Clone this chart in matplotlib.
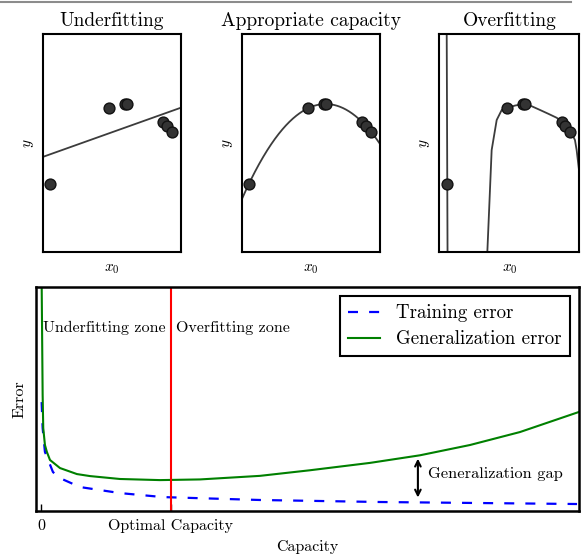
import numpy as np
import matplotlib
matplotlib.use("Agg")
import matplotlib.pyplot as plt
from matplotlib.lines import Line2D

plt.rcParams["font.family"] = "cmr10"
plt.rcParams["mathtext.fontset"] = "cm"
plt.rcParams["axes.formatter.use_mathtext"] = True

# ---------------- data ----------------
x_points = [0.053, 0.480, 0.596, 0.613, 0.874, 0.899, 0.937]
y_points = [0.315, 0.661, 0.680, 0.680, 0.596, 0.581, 0.553]
panel_titles = ["Underfitting", "Appropriate capacity", "Overfitting"]
fit_degrees = [1, 2]

# high-capacity (overfitting) curve
overfit_x = [0.050, 0.057, 0.064, 0.300, 0.343, 0.374, 0.386, 0.410, 0.446,
             0.481, 0.540, 0.598, 0.660, 0.719, 0.780, 0.839, 0.900, 0.934,
             0.969, 0.981, 0.998, 1.010]
overfit_y = [1.500, 0.315, -0.900, -1.000, 0.000, 0.469, 0.515, 0.607, 0.653,
             0.661, 0.673, 0.680, 0.670, 0.653, 0.635, 0.617, 0.585, 0.561,
             0.515, 0.469, 0.377, 0.250]

capacity_gen = [0.0015, 0.0093, 0.0139, 0.027, 0.042, 0.066, 0.143, 0.274, 0.375,
                0.606, 0.915, 1.224, 1.687, 2.073, 2.537, 2.923, 3.309, 3.695, 4.151]
gen_error = [1.03, 0.517, 0.369, 0.293, 0.262, 0.226, 0.190, 0.163, 0.154,
             0.141, 0.136, 0.139, 0.155, 0.180, 0.213, 0.247, 0.293, 0.351, 0.441]
capacity_train = [0.0015, 0.0093, 0.027, 0.089, 0.143, 0.297, 0.606, 0.938,
                  1.687, 2.614, 4.136]
train_error = [0.485, 0.369, 0.262, 0.172, 0.145, 0.105, 0.078, 0.060,
               0.047, 0.038, 0.029]
optimal_capacity = 1.0
xtick_labels = ["0", "Optimal Capacity"]
legend_labels = ["Training error", "Generalization error"]

W, H = 584, 556
fig = plt.figure(figsize=(W / 100, H / 100), dpi=100)
fig.add_artist(Line2D([0, 571 / W], [1 - 1.5 / H] * 2, color="#8c8c8c", lw=1.5))

def px_rect(l, t, w, h):
    return [l / W, 1 - (t + h) / H, w / W, h / H]

lefts = [42.7, 241.7, 439.3]
widths = [138, 138, 140]
xs = np.linspace(0, 1, 400)
for i in range(3):
    ax = fig.add_axes(px_rect(lefts[i], 34.3, widths[i], 218))
    if i < 2:
        coef = np.polyfit(x_points, y_points, fit_degrees[i])
        ax.plot(xs, np.polyval(coef, xs), color="#3c3c3c", lw=1.3, zorder=2)
    else:
        ax.plot(overfit_x, overfit_y, color="#3c3c3c", lw=1.3, zorder=2)
    ax.plot(x_points, y_points, "o", ms=7.8, mfc="#333333", mec="#111111",
            mew=1.0, zorder=3)
    ax.set_xlim(0, 1)
    ax.set_ylim(0, 1)
    ax.set_xticks([])
    ax.set_yticks([])
    for s in ax.spines.values():
        s.set_linewidth(1.5)
    ax.set_title(panel_titles[i], fontsize=14, pad=6)
    ax.set_xlabel(r"$x_0$", fontsize=11, labelpad=7)
    ax.set_ylabel(r"$y$", fontsize=11, labelpad=5)

# ---------------- bottom panel ----------------
ax = fig.add_axes(px_rect(36, 287, 543, 223.5))
ax.plot(capacity_train, train_error, color="b", lw=1.6, dashes=(4.5, 5),
        label=legend_labels[0])
ax.plot(capacity_gen, gen_error, color="g", lw=1.5, label=legend_labels[1])
ax.axvline(optimal_capacity, color="r", lw=1.5)
ax.set_xlim(-0.042, 4.151)
ax.set_ylim(0, 1)
ax.set_xticks([0, optimal_capacity])
ax.set_xticklabels(xtick_labels, fontsize=11.5)
ax.set_yticks([])
ax.tick_params(axis="x", direction="in", length=5, width=1, pad=6, top=False)
for s in ax.spines.values():
    s.set_linewidth(1.8)
ax.set_xlabel("Capacity", fontsize=11.5, labelpad=5)
ax.set_ylabel("Error", fontsize=11.5, labelpad=7)

off = 0.039
ax.text(optimal_capacity - off, 0.817, "Underfitting zone", ha="right",
        va="center", fontsize=11.5)
ax.text(optimal_capacity + off, 0.817, "Overfitting zone", ha="left",
        va="center", fontsize=11.5)

ax.annotate("", xy=(2.907, 0.232), xytext=(2.907, 0.058),
            arrowprops=dict(arrowstyle="<->", lw=1.5, color="black",
                            shrinkA=0, shrinkB=0))
ax.text(2.985, 0.163, "Generalization gap", ha="left", va="center", fontsize=11.8)

leg = ax.legend(loc="upper right", fontsize=13.6, fancybox=False,
                edgecolor="black", framealpha=1, borderaxespad=0.5,
                handlelength=1.7, handletextpad=0.85, labelspacing=0.42,
                borderpad=0.42)
leg.get_frame().set_linewidth(1.5)

fig.savefig("out.png", dpi=100)
